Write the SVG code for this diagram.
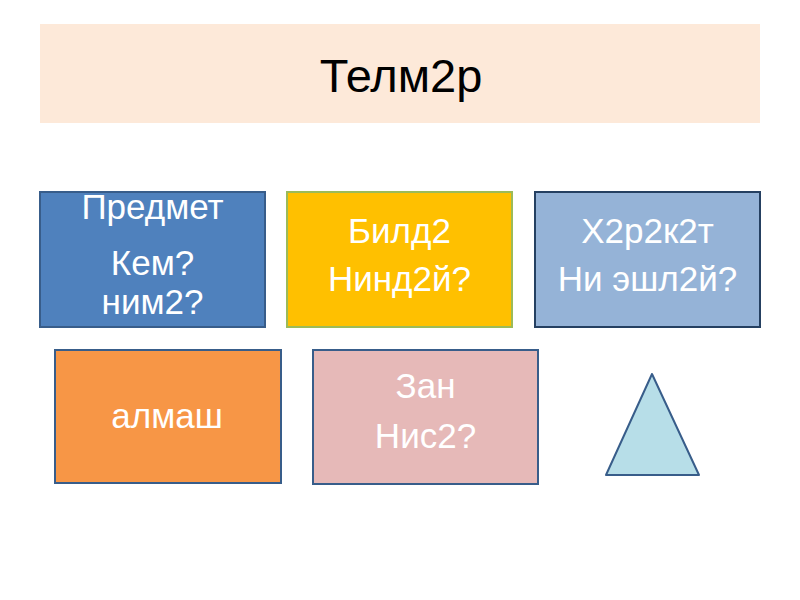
<svg xmlns="http://www.w3.org/2000/svg" width="800" height="600" viewBox="0 0 800 600">
<style>
text{font-family:"Liberation Sans",Arial,sans-serif;text-anchor:middle}
.t{font-size:35px;fill:#ffffff}
.box{stroke-width:2}
</style>
<rect width="800" height="600" fill="#ffffff"/>
<g id="title">
<rect x="40" y="24" width="720" height="99" fill="#fde9d9"/>
<text x="401" y="92" style="font-size:47px;fill:#000000">Телм2р</text>
</g>
<g id="predmet">
<rect class="box" x="40" y="192" width="225" height="135" fill="#4f81bd" stroke="#385d8a"/>
<text class="t" x="152.5" y="219">Предмет</text>
<text class="t" x="152.5" y="275">Кем?</text>
<text class="t" x="152.5" y="314">ним2?</text>
</g>
<g id="bild2">
<rect class="box" x="287" y="192" width="225" height="135" fill="#ffc000" stroke="#9bbb59"/>
<text class="t" x="399.5" y="243">Билд2</text>
<text class="t" x="399.5" y="291">Нинд2й?</text>
</g>
<g id="x2r2k2t">
<rect class="box" x="535" y="192" width="225" height="135" fill="#95b3d7" stroke="#254061"/>
<text class="t" x="647.5" y="243">Х2р2к2т</text>
<text class="t" x="647.5" y="291">Ни эшл2й?</text>
</g>
<g id="almash">
<rect class="box" x="55" y="350" width="226" height="133" fill="#f79646" stroke="#385d8a"/>
<text class="t" x="167" y="428">алмаш</text>
</g>
<g id="zan">
<rect class="box" x="313" y="350" width="225" height="134" fill="#e6b9b8" stroke="#385d8a"/>
<text class="t" x="425.5" y="398">Зан</text>
<text class="t" x="425.5" y="448">Нис2?</text>
</g>
<g id="triangle">
<polygon points="652,374 606,475 699,475" fill="#b7dee8" stroke="#385d8a" stroke-width="2" stroke-linejoin="round"/>
</g>
<g id="connectors"/>
</svg>
